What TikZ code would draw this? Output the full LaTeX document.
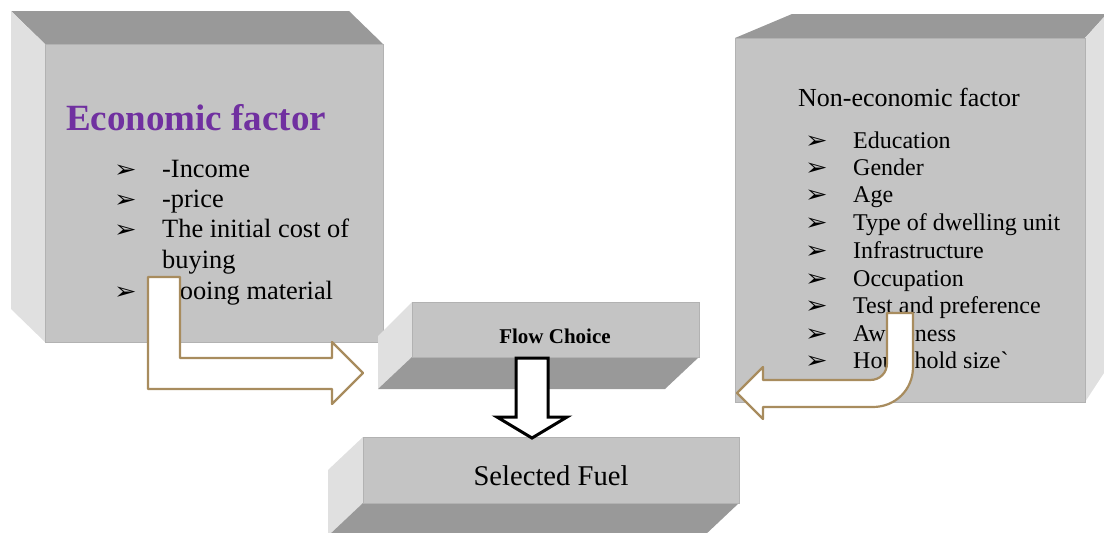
\documentclass[tikz,border=0pt]{standalone}
\usepackage{fontspec}
\usepackage{graphicx}
\setmainfont{Liberation Serif}
\newfontfamily\dvs{DejaVu Sans}
\definecolor{frontc}{HTML}{C4C4C4}
\definecolor{topc}{HTML}{999999}
\definecolor{sidec}{HTML}{E0E0E0}
\definecolor{edgec}{HTML}{B2B2B2}
\definecolor{purp}{HTML}{7030A0}
\definecolor{tanc}{HTML}{A88C5E}
\newcommand\arrbullet{\scalebox{1.2}[1.05]{\dvs\fontsize{22.5}{23}\selectfont ➢}}
\tikzset{
  frontface/.style={fill=frontc, draw=edgec, line width=1pt},
  topface/.style={fill=topc},
  sideface/.style={fill=sidec},
  lbl/.style={anchor=base west, inner sep=0pt},
  bulletnode/.style={anchor=base west, inner sep=0pt},
  leftitem/.style={lbl, font=\fontsize{26.4}{30}\selectfont},
  rightitem/.style={lbl, font=\fontsize{24}{27}\selectfont},
  blockarrow/.style={fill=white, draw=tanc, line width=2.2pt, line join=round},
  downarrow/.style={fill=white, draw=black, line width=3pt, line join=miter},
}
\begin{document}
\begin{tikzpicture}[x=1pt,y=-1pt]
\useasboundingbox (0,0) rectangle (1104,533);
\begin{scope}
\clip (0,0) rectangle (1104,533);
% left box
\fill[topface] (11,11) -- (349,11) -- (383,44) -- (45,44) -- cycle;
\fill[sideface] (11,11) -- (45,44) -- (45,342) -- (11,309) -- cycle;
\draw[frontface] (45,44) rectangle (383,342);
% right box
\fill[topface] (735,38) -- (792,14) -- (1104,14) -- (1104,17) -- (1085,38) -- cycle;
\fill[sideface] (1085,38) -- (1104,17) -- (1104,373) -- (1085,402) -- cycle;
\draw[frontface] (735,38) rectangle (1085,402);
% flow choice box
\fill[sideface] (378,336) -- (412,302) -- (412,357) -- (378,389) -- cycle;
\fill[topface] (412,357) -- (699,357) -- (665,389) -- (378,389) -- cycle;
\draw[frontface] (412,302) rectangle (699,357);
% selected fuel box
\fill[sideface] (328,470) -- (363,437) -- (363,503) -- (328,536) -- cycle;
\fill[topface] (363,503) -- (739,503) -- (704,536) -- (328,536) -- cycle;
\draw[frontface] (363,437) rectangle (739,503);
\end{scope}

% left texts
\node[lbl, text=purp, font=\fontsize{37}{40}\selectfont\bfseries] (econ) at (66,130) {Economic factor};
\node[bulletnode] (lb1) at (114,177) {\arrbullet};
\node[leftitem] (li1) at (162,177) {-Income};
\node[bulletnode] (lb2) at (114,207) {\arrbullet};
\node[leftitem] (li2) at (162,207) {-price};
\node[bulletnode] (lb3) at (114,237) {\arrbullet};
\node[leftitem] (li3) at (162,237) {The initial cost of};
\node[leftitem] (li3b) at (162,268) {buying};
\node[bulletnode] (lb4) at (114,299) {\arrbullet};
\node[leftitem] (li4) at (162,299) {Cooing material};

% right texts
\node[lbl, font=\fontsize{26}{30}\selectfont] (nonecon) at (798,106) {Non-economic factor};
\foreach \t/\y [count=\i] in {Education/148, Gender/175, Age/202, Type of dwelling unit/230, Infrastructure/258, Occupation/286, Test and preference/313, Awareness/341, Household size\textasciigrave/368}{
  \node[bulletnode] (rb\i) at (805,\y) {\arrbullet};
  \node[rightitem] (ri\i) at (853,\y) {\t};
}

% center texts
\node[anchor=base, inner sep=0pt, font=\fontsize{21}{24}\selectfont\bfseries] (flow) at (555,343) {Flow Choice};
\node[anchor=base, inner sep=0pt, font=\fontsize{28.6}{32}\selectfont] (fuel) at (551,485) {Selected Fuel};

% arrows
\draw[blockarrow] (148,277) -- (180,277) -- (180,358) -- (332,358) -- (332,342) -- (363,373) -- (332,404) -- (332,389) -- (148,389) -- cycle;
\draw[blockarrow] (887,313) -- (913,313) -- (913,367) .. controls (913,390) and (895,407) .. (873,407) -- (763,407) -- (763,419) -- (737,393) -- (763,367) -- (763,380) -- (870,380) .. controls (880,380) and (887,373) .. (887,363) -- cycle;
\draw[downarrow] (516,358) -- (548,358) -- (548,417) -- (567,417) -- (532,438) -- (497,417) -- (516,417) -- cycle;
\end{tikzpicture}
\end{document}
